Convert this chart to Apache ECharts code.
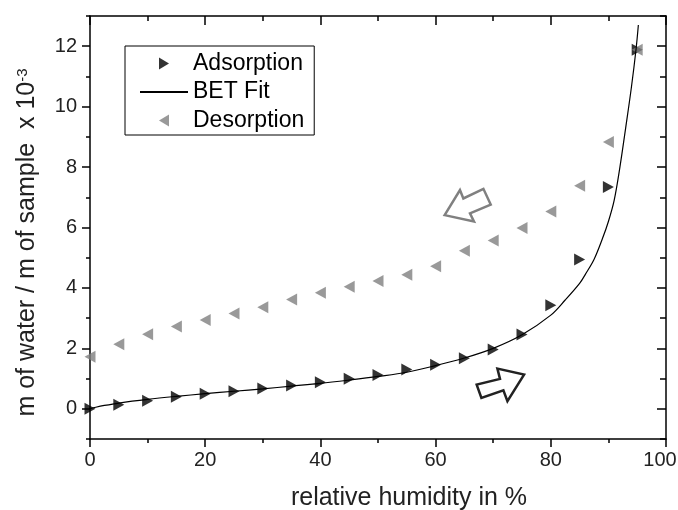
<!DOCTYPE html>
<html>
<head>
<meta charset="utf-8">
<script src="https://cdn.jsdelivr.net/npm/echarts@6/dist/echarts.min.js"></script>
<style>html,body{margin:0;padding:0;background:#fff;}#c{width:678px;height:510px;}</style>
</head>
<body>
<div id="c"></div>
<script>
// ---- data ----
var humidity = [0,5,10,15,20,25,30,35,40,45,50,55,60,65,70,75,80,85,90,95];
var adsorption = [0,0.13,0.27,0.40,0.50,0.58,0.67,0.77,0.88,0.99,1.12,1.30,1.46,1.67,1.96,2.46,3.43,4.94,7.34,11.88];
var desorption = [1.72,2.14,2.47,2.72,2.94,3.15,3.36,3.62,3.84,4.04,4.23,4.44,4.72,5.23,5.57,5.98,6.53,7.38,8.83,11.88];
var fitHumidity = [0,1,2.5,5,10,15,20,25,30,35,40,45,50,55,60,65,70,75,80,82.5,85,86,87.5,89,90,91,92,93,94,94.8,95.2];
var fitValues   = [0,0.05,0.11,0.19,0.31,0.41,0.50,0.58,0.66,0.75,0.84,0.95,1.07,1.21,1.43,1.68,2.0,2.45,3.1,3.6,4.15,4.45,4.94,5.65,6.2,6.9,8.0,9.3,10.65,11.9,12.7];
var yMajorTicks = [0,2,4,6,8,10,12];
var yMinorTicks = [-1,1,3,5,7,9,11,13];
// annotation arrows (data units)
var arrowDes = [[61.57,6.41],[66.66,6.20],[65.97,6.47],[69.57,6.76],[68.30,7.28],[64.82,6.96],[64.23,7.24]];
var arrowAds = [[75.36,1.13],[72.47,0.25],[71.77,0.61],[67.95,0.36],[67.13,0.80],[71.18,0.99],[70.73,1.33]];

function zip(a,b){var r=[];for(var i=0;i<a.length;i++)r.push([a[i],b[i]]);return r;}

var FONT = "'Liberation Sans', Arial, sans-serif";
var chart = echarts.init(document.getElementById('c'), null, {renderer:'canvas'});
var lineStyle = {color:'#000', width:1.5};
var option = {
  animation:false,
  backgroundColor:'#fff',
  textStyle:{fontFamily:FONT},
  grid:{left:90,right:12,top:16,bottom:71,containLabel:false,outerBoundsMode:'none'},
  legend:{
    orient:'vertical', left:125, top:46,
    padding:[6,10,3,14],
    itemWidth:48, itemHeight:12, itemGap:5.5,
    borderColor:'#000', borderWidth:1, borderRadius:0,
    textStyle:{fontFamily:FONT, fontSize:23, lineHeight:22, color:'#000'},
    data:[
      {name:'Adsorption', icon:'path://M0,0L10,6L0,12Z'},
      {name:'BET Fit', itemStyle:{opacity:0}},
      {name:'Desorption', icon:'path://M10,0L0,6L10,12Z'}
    ]
  },
  xAxis:[
    {type:'value', position:'bottom', min:0, max:100, interval:20,
     name:'relative humidity in %', nameLocation:'middle', nameGap:47,
     nameTextStyle:{fontFamily:FONT, fontSize:25, color:'#222', padding:[0,0,0,62]},
     axisLine:{onZero:false, lineStyle:lineStyle}, axisTick:{inside:false, length:8, lineStyle:lineStyle},
     minorTick:{show:true, splitNumber:2, length:4, lineStyle:lineStyle},
     axisLabel:{fontFamily:FONT, fontSize:20, color:'#222', margin:11,
       formatter:function(v){return v===100 ? '{m|100}' : String(v);},
       rich:{m:{fontFamily:FONT, fontSize:20, color:'#222', padding:[0,12,0,0]}}},
     splitLine:{show:false}},
    {type:'value', position:'top', min:0, max:100, interval:20,
     axisLine:{onZero:false, lineStyle:lineStyle}, axisTick:{inside:true, length:9, lineStyle:lineStyle},
     minorTick:{show:true, splitNumber:2, length:5, lineStyle:lineStyle},
     axisLabel:{show:false}, splitLine:{show:false}}
  ],
  yAxis:[
    {type:'value', position:'left', min:-1, max:13, interval:1,
     name:'{a|m of water / m of sample  x 10}{b|-3}', nameLocation:'middle', nameGap:50, nameRotate:90,
     nameTextStyle:{padding:[0,30,0,0], rich:{
       a:{fontFamily:FONT, fontSize:25, color:'#222'},
       b:{fontFamily:FONT, fontSize:15, color:'#222', verticalAlign:'top'}}},
     axisLine:{onZero:false, lineStyle:lineStyle},
     axisTick:{inside:false, length:8, lineStyle:lineStyle, customValues:yMajorTicks},
     axisLabel:{fontFamily:FONT, fontSize:20, color:'#222', margin:13, customValues:yMajorTicks},
     splitLine:{show:false}},
    {type:'value', position:'right', min:-1, max:13, interval:1,
     axisLine:{onZero:false, lineStyle:lineStyle},
     axisTick:{inside:true, length:9, lineStyle:lineStyle, customValues:yMajorTicks},
     axisLabel:{show:false}, splitLine:{show:false}},
    {type:'value', position:'left', min:-1, max:13, interval:1,
     axisLine:{onZero:false, show:false},
     axisTick:{inside:false, length:4, lineStyle:lineStyle, customValues:yMinorTicks},
     axisLabel:{show:false}, splitLine:{show:false}},
    {type:'value', position:'right', min:-1, max:13, interval:1,
     axisLine:{onZero:false, show:false},
     axisTick:{inside:true, length:6, lineStyle:lineStyle, customValues:yMinorTicks},
     axisLabel:{show:false}, splitLine:{show:false}}
  ],
  series:[
    {name:'Adsorption', type:'scatter', xAxisIndex:0, yAxisIndex:0,
     symbol:'path://M0,0L10,6L0,12Z', symbolSize:[11,12], symbolKeepAspect:false,
     itemStyle:{color:'#000'}, data:zip(humidity, adsorption), z:2},
    {name:'Desorption', type:'scatter', xAxisIndex:0, yAxisIndex:0,
     symbol:'path://M10,0L0,6L10,12Z', symbolSize:[11,12], symbolKeepAspect:false,
     itemStyle:{color:'#808080'}, data:zip(humidity, desorption), z:3},
    {name:'BET Fit', type:'line', xAxisIndex:0, yAxisIndex:0, smooth:0.35,
     symbol:'circle', showSymbol:false,
     lineStyle:{color:'#000', width:1.2}, itemStyle:{color:'#000'},
     data:zip(fitHumidity, fitValues), z:4}
  ]
};
chart.setOption(option);

function toPx(pts){return pts.map(function(p){return chart.convertToPixel({xAxisIndex:0,yAxisIndex:0}, p);});}
chart.setOption({graphic:[
  {type:'polygon', shape:{points:toPx(arrowDes)}, style:{fill:'#fff', stroke:'#808080', lineWidth:2.5, lineJoin:'miter'}, z:10},
  {type:'polygon', shape:{points:toPx(arrowAds)}, style:{fill:'#fff', stroke:'#222', lineWidth:2.5, lineJoin:'miter'}, z:10}
]});
</script>
</body>
</html>
